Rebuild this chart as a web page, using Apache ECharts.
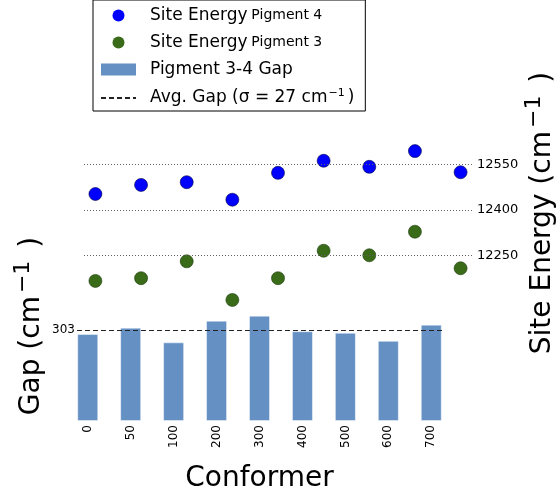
<!DOCTYPE html>
<html>
<head>
<meta charset="utf-8">
<script src="https://cdn.jsdelivr.net/npm/echarts@6/dist/echarts.min.js"></script>
<style>
  html, body { margin: 0; padding: 0; background: #fff; }
  #chart { width: 560px; height: 492px; }
</style>
</head>
<body>
<div id="chart"></div>
<script>
// conformer snapshots
const conformers = ['0', '50', '100', '200', '300', '400', '500', '600', '700'];
// site energies (cm-1)
const pigment4 = [12453, 12483, 12492, 12434, 12523, 12563, 12543, 12595, 12525];
const pigment3 = [12165, 12174, 12230, 12102, 12174, 12265, 12250, 12328, 12207];
// pigment 3-4 gap (cm-1)
const gap = [290, 311, 262, 334, 351, 299, 294, 267, 321];
const avgGap = 303;
const energyTicks = [12250, 12400, 12550];
const gapTicks = [303];

const font = 'DejaVu Sans';
const positions = conformers.map((c, i) => i);

const legendText = {
  'Site Energy Pigment 4': '{a|Site Energy} {b|Pigment 4}',
  'Site Energy Pigment 3': '{a|Site Energy} {b|Pigment 3}',
  'Pigment 3-4 Gap': '{a|Pigment 3-4 Gap}',
  'Avg. Gap': '{a|Avg. Gap (σ = 27 cm}{s|−1}{a|)}'
};

// rich styles for the big rotated axis titles (superscript lifted with bottom padding)
const titleRich = {
  a: { fontSize: 28, fontFamily: font, color: '#000', lineHeight: 36 },
  s: { fontSize: 22, fontFamily: font, color: '#000', lineHeight: 14, padding: [0, 4, 18, 3] }
};

var chart = echarts.init(document.getElementById('chart'));
chart.setOption({
  animation: false,
  textStyle: { fontFamily: font },
  legend: {
    orient: 'vertical',
    left: 93,
    top: 0,
    padding: [7, 11, 3, 7],
    itemGap: 10,
    itemWidth: 35,
    itemHeight: 12,
    borderColor: '#000',
    borderWidth: 1,
    backgroundColor: '#fff',
    selectedMode: false,
    itemStyle: { borderWidth: 0 },
    data: [
      { name: 'Site Energy Pigment 4', icon: 'circle' },
      { name: 'Site Energy Pigment 3', icon: 'circle' },
      { name: 'Pigment 3-4 Gap', icon: 'rect' },
      { name: 'Avg. Gap', itemStyle: { opacity: 0 } }
    ],
    formatter: name => legendText[name],
    textStyle: {
      padding: [0, 0, 0, 9],
      rich: {
        a: { fontSize: 17, fontFamily: font, color: '#000', lineHeight: 20 },
        b: { fontSize: 14, fontFamily: font, color: '#000', lineHeight: 20 },
        s: { fontSize: 11, fontFamily: font, color: '#000', lineHeight: 10, padding: [0, 3, 9, 1] }
      }
    }
  },
  grid: [
    { left: 77, top: 231, width: 365, height: 190, outerBoundsMode: 'none' },
    { left: 84, top: 5, width: 388, height: 416, outerBoundsMode: 'none' }
  ],
  xAxis: [
    {
      type: 'value', gridIndex: 0, min: -0.25, max: 8.25,
      name: 'Conformer', nameLocation: 'middle', nameGap: 44, nameMoveOverlap: false,
      nameTextStyle: { fontSize: 28, color: '#000', fontFamily: font },
      axisLine: { show: false }, axisTick: { show: false }, splitLine: { show: false },
      axisLabel: {
        customValues: positions,
        formatter: v => conformers[v],
        rotate: 90, margin: 4, fontSize: 12, color: '#000'
      }
    },
    {
      type: 'value', gridIndex: 1, min: -0.25, max: 8.25, show: false
    }
  ],
  yAxis: [
    {
      type: 'value', gridIndex: 0, min: 0, max: 633,
      name: '{a|Gap (cm}{s|−1}{a| )}', nameLocation: 'middle', nameGap: 27, nameRotate: 90,
      nameMoveOverlap: false,
      nameTextStyle: { rich: titleRich },
      axisLine: { show: false }, axisTick: { show: false }, splitLine: { show: false },
      axisLabel: { customValues: gapTicks, margin: 2, fontSize: 12, color: '#000' }
    },
    {
      type: 'value', gridIndex: 1, position: 'right', min: 11701, max: 13079,
      name: '{a|Site Energy (cm}{s|−1}{a| )}', nameLocation: 'middle', nameGap: 53, nameRotate: 90,
      nameMoveOverlap: false,
      nameTextStyle: { rich: titleRich },
      axisLine: { show: false }, axisTick: { show: false }, splitLine: { show: false },
      axisLabel: { customValues: energyTicks, formatter: v => String(v), margin: 5, fontSize: 13, color: '#000' }
    }
  ],
  series: [
    {
      name: 'Pigment 3-4 Gap',
      type: 'bar',
      xAxisIndex: 0, yAxisIndex: 0,
      barWidth: 21,
      itemStyle: { color: '#6590c4', borderColor: 'rgba(255,255,255,0.45)', borderWidth: 1 },
      data: gap.map((v, i) => [i, v]),
      z: 2
    },
    {
      name: 'Avg. Gap',
      type: 'line',
      xAxisIndex: 0, yAxisIndex: 0,
      symbol: 'none',
      lineStyle: { color: '#222', width: 1.2, type: [5, 3] },
      itemStyle: { color: '#222' },
      data: [],
      markLine: {
        silent: true, symbol: 'none', label: { show: false },
        lineStyle: { color: '#222', width: 1.2, type: [5, 3] },
        data: [{ yAxis: avgGap }]
      },
      z: 3
    },
    {
      name: 'Site Energy Pigment 4',
      type: 'scatter',
      xAxisIndex: 1, yAxisIndex: 1,
      symbolSize: 13,
      itemStyle: { color: '#0000ff', borderColor: '#000044', borderWidth: 0.6, opacity: 1 },
      data: pigment4.map((v, i) => [i, v]),
      markLine: {
        silent: true, symbol: 'none', label: { show: false },
        lineStyle: { color: '#666', width: 1, type: [1, 2] },
        data: energyTicks.map(v => ({ yAxis: v }))
      },
      z: 4
    },
    {
      name: 'Site Energy Pigment 3',
      type: 'scatter',
      xAxisIndex: 1, yAxisIndex: 1,
      symbolSize: 13,
      itemStyle: { color: '#3a6b19', borderColor: '#1c3a0c', borderWidth: 0.6, opacity: 1 },
      data: pigment3.map((v, i) => [i, v]),
      z: 4
    }
  ]
});
</script>
</body>
</html>
